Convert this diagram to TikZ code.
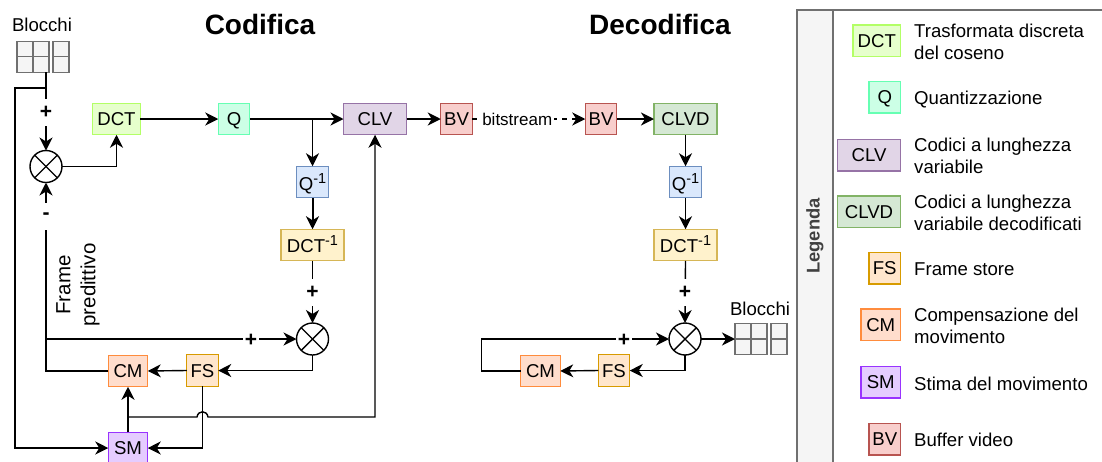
\documentclass[tikz,border=0pt]{standalone}
\usepackage{fontspec}
\setmainfont{Liberation Sans}
\usetikzlibrary{arrows.meta}
\newcommand{\supone}{\raisebox{7pt}{\fontsize{14.5}{14.5}\selectfont -1}}
\tikzset{
  base/.style={font=\fontsize{18.6}{22}\selectfont},
  blockbox/.style={base,draw,line width=1.4pt,inner sep=0pt,outer sep=0pt,minimum height=31.5,text height=13pt,text depth=0pt},
  w1/.style={minimum width=31.5},
  w2/.style={minimum width=39.5},
  w3/.style={minimum width=47.5},
  w4/.style={minimum width=63},
  dctbox/.style={blockbox,w3,fill=dctF,draw=dctD},
  qbox/.style={blockbox,w1,fill=qF,draw=qD},
  clvbox/.style={blockbox,w4,fill=clvF,draw=clvD},
  clvdbox/.style={blockbox,w4,fill=clvdF,draw=clvdD},
  fsbox/.style={blockbox,w1,fill=fsF,draw=fsD},
  cmbox/.style={blockbox,w2,fill=cmF,draw=cmD},
  smbox/.style={blockbox,w2,fill=smF,draw=smD},
  bvbox/.style={blockbox,w1,fill=bvF,draw=bvD},
  iqbox/.style={blockbox,w1,fill=iqF,draw=iqD,text height=17pt},
  idctbox/.style={blockbox,w4,fill=idctF,draw=idctD,text height=15pt},
  cell/.style={draw=gridD,fill=gridF,line width=1.1pt,inner sep=0pt,outer sep=0pt,minimum width=16,minimum height=15.5},
  mixer/.style={circle,draw,line width=1.4pt,fill=white,inner sep=0pt,outer sep=0pt,minimum size=32},
  conn/.style={line width=1.4pt,-{Stealth[length=13pt,width=13pt,inset=4pt]}},
  heavy/.style={conn,line width=2pt},
  plain/.style={line width=1.4pt},
  heavyplain/.style={line width=2pt},
  sign/.style={font=\fontsize{21}{21}\selectfont\bfseries,fill=white,inner sep=0pt,minimum width=16,minimum height=27},
  txt/.style={base,inner sep=0pt},
  legtxt/.style={base,inner sep=0pt,anchor=west,align=left},
  title/.style={inner sep=0pt,font=\fontsize{28}{30}\selectfont\bfseries},
}
\definecolor{dctF}{HTML}{E6FFCC}\definecolor{dctD}{HTML}{B3FF66}
\definecolor{qF}{HTML}{CCFFE6}\definecolor{qD}{HTML}{66FFB3}
\definecolor{clvF}{HTML}{E1D5E7}\definecolor{clvD}{HTML}{9673A6}
\definecolor{clvdF}{HTML}{D5E8D4}\definecolor{clvdD}{HTML}{82B366}
\definecolor{fsF}{HTML}{FFE6CC}\definecolor{fsD}{HTML}{D79B00}
\definecolor{cmF}{HTML}{FFDDCC}\definecolor{cmD}{HTML}{FF8C3D}
\definecolor{smF}{HTML}{E5CCFF}\definecolor{smD}{HTML}{9933FF}
\definecolor{bvF}{HTML}{F8CECC}\definecolor{bvD}{HTML}{B85450}
\definecolor{iqF}{HTML}{DAE8FC}\definecolor{iqD}{HTML}{6C8EBF}
\definecolor{idctF}{HTML}{FFF2CC}\definecolor{idctD}{HTML}{D6B656}
\definecolor{gridF}{HTML}{F5F5F5}\definecolor{gridD}{HTML}{707070}
\begin{document}
\begin{tikzpicture}[x=1pt,y=-1pt]
\useasboundingbox (0,0) rectangle (1102,461);
% titles
\node[title] (t1) at (260,24) {Codifica};
\node[title] (t2) at (660,24) {Decodifica};
% top blocks
\node[txt] (bl1) at (42,25) {Blocchi};
\node[cell] (a1) at (25,49) {};\node[cell] (a2) at (41,49) {};\node[cell] (a3) at (61,49) {};
\node[cell] (a4) at (25,64.5) {};\node[cell] (a5) at (41,64.5) {};\node[cell] (a6) at (61,64.5) {};
% coder
\node[dctbox] (dct) at (116.5,119) {DCT};
\node[qbox] (q) at (234,119) {Q};
\node[clvbox] (clv) at (375,119) {CLV};
\node[bvbox] (bv1) at (456.5,119) {BV};
\node[iqbox] (iq1) at (312.5,182) {Q\supone};
\node[idctbox] (idct1) at (312.5,245) {DCT\supone};
\node[mixer] (m0) at (46,166.5) {};
\node[mixer] (m1) at (312.5,339) {};
\node[cmbox] (cm1) at (128,371) {CM};
\node[fsbox] (fs1) at (202.5,370.5) {FS};
\node[smbox] (sm1) at (128,448) {SM};
% decoder
\node[bvbox] (bv2) at (601,119) {BV};
\node[clvdbox] (clvd) at (685.5,119) {CLVD};
\node[iqbox] (iq2) at (685.5,182) {Q\supone};
\node[idctbox] (idct2) at (685.5,245) {DCT\supone};
\node[mixer] (m2) at (685,339) {};
\node[cmbox] (cm2) at (540.5,371) {CM};
\node[fsbox] (fs2) at (614,370.5) {FS};
\node[txt] (bl2) at (760,309) {Blocchi};
\node[cell] (b1) at (743,331) {};\node[cell] (b2) at (759,331) {};\node[cell] (b3) at (779,331) {};
\node[cell] (b4) at (743,347) {};\node[cell] (b5) at (759,347) {};\node[cell] (b6) at (779,347) {};
% mixer crosses
\foreach \m in {m0,m1,m2}{
  \draw[plain] (\m.north west) -- (\m.south east);
  \draw[plain] (\m.north east) -- (\m.south west);
}
% free ends
\coordinate (aout) at (46,72);
\coordinate (abr) at (46,88);
\coordinate (lft) at (15,88);
\coordinate (lfb) at (15,448);
\coordinate (cmup) at (46,371);
\coordinate (fbk) at (46,339);
\coordinate (qbr) at (312.5,119);
\coordinate (smbr) at (128,417);
\coordinate (j1) at (197,417);
\coordinate (j2) at (208,417);
\coordinate (clvb) at (375,417);
\coordinate (loopa) at (481.5,371);
\coordinate (loopb) at (481.5,339);
% coder connectors
\draw[conn] (abr) -- (lft) -- (lfb) -- (sm1.west);
\draw[conn] (aout) -- (m0.north);
\draw[conn] (m0.east) -| (dct.south);
\draw[conn] (dct.east) -- (q.west);
\draw[conn] (q.east) -- (clv.west);
\draw[conn] (qbr) -- (iq1.north);
\draw[heavy] (iq1.south) -- (idct1.north);
\draw[conn] (idct1.south) -- (m1.north);
\draw[conn] (fbk) -- (m1.west);
\draw[heavyplain] (cm1.west) -- (cmup) -- (fbk);
\draw[conn] (fbk) -- (m0.south);
\draw[conn] (m1.south) |- (fs1.east);
\draw[conn] (fs1.west) -- (cm1.east);
\draw[conn] (fs1.south) |- (sm1.east);
\draw[heavy] (sm1.north) -- (cm1.south);
\draw[conn] (smbr) -- (j1) .. controls (198,410) and (207,410) .. (j2) -- (clvb) -- (clv.south);
\draw[heavy] (clv.east) -- (bv1.west);
\draw[conn,dash pattern=on 5pt off 5pt] (bv1.east) -- (bv2.west) node[pos=0.398,font=\fontsize{17}{20}\selectfont,fill=white,inner sep=2pt,solid] (bs) {bitstream};
% decoder connectors
\draw[heavy] (bv2.east) -- (clvd.west);
\draw[conn] (clvd.south) -- (iq2.north);
\draw[conn] (iq2.south) -- (idct2.north);
\draw[conn] (idct2.south) -- (m2.north);
\draw[conn] (m2.east) -- (b1.west |- m2.east);
\draw[conn] (m2.south) |- (fs2.east);
\draw[conn] (fs2.west) -- (cm2.east);
\draw[conn] (cm2.west) -- (loopa) -- (loopb) -- (m2.west);
% signs
\node[sign] (s1) at (46,112) {+};
\node[sign] (s2) at (46,216) {-};
\node[sign] (s3) at (312.5,292) {+};
\node[sign] (s4) at (251,340) {+};
\node[sign] (s5) at (685,292) {+};
\node[sign] (s6) at (624,340) {+};
\node[rotate=90,align=center,inner sep=0pt,font=\fontsize{20.5}{25}\selectfont] (fp) at (78,285) {Frame\\predittivo};
% legend
\fill[gridF] (797,10) rectangle (833,470);
\draw[gridD,line width=1.5pt] (1110,10) -- (797,10) -- (797,470);
\draw[gridD,line width=1.5pt] (833,10) -- (833,470);
\node[rotate=90,inner sep=0pt,text=black!75,font=\fontsize{18.4}{22}\selectfont\bfseries] (leg) at (815,236) {Legenda};
\node[dctbox] (l1) at (876.75,40.75) {DCT};
\node[qbox] (l2) at (884.75,97.25) {Q};
\node[clvbox] (l3) at (869,155.25) {CLV};
\node[clvdbox] (l4) at (869,211.75) {CLVD};
\node[fsbox] (l5) at (884.75,268.25) {FS};
\node[cmbox] (l6) at (880.75,324.75) {CM};
\node[smbox] (l7) at (880.75,382.25) {SM};
\node[bvbox] (l8) at (884.75,439.25) {BV};
\node[legtxt] (x1) at (914,42) {Trasformata discreta\\del coseno};
\node[legtxt] (x2) at (914,99.5) {Quantizzazione};
\node[legtxt] (x3) at (914,156) {Codici a lunghezza\\variabile};
\node[legtxt] (x4) at (914,213) {Codici a lunghezza\\variabile decodificati};
\node[legtxt] (x5) at (914,269) {Frame store};
\node[legtxt] (x6) at (914,325.5) {Compensazione del\\movimento};
\node[legtxt] (x7) at (914,384) {Stima del movimento};
\node[legtxt] (x8) at (914,440) {Buffer video};
\end{tikzpicture}
\end{document}
